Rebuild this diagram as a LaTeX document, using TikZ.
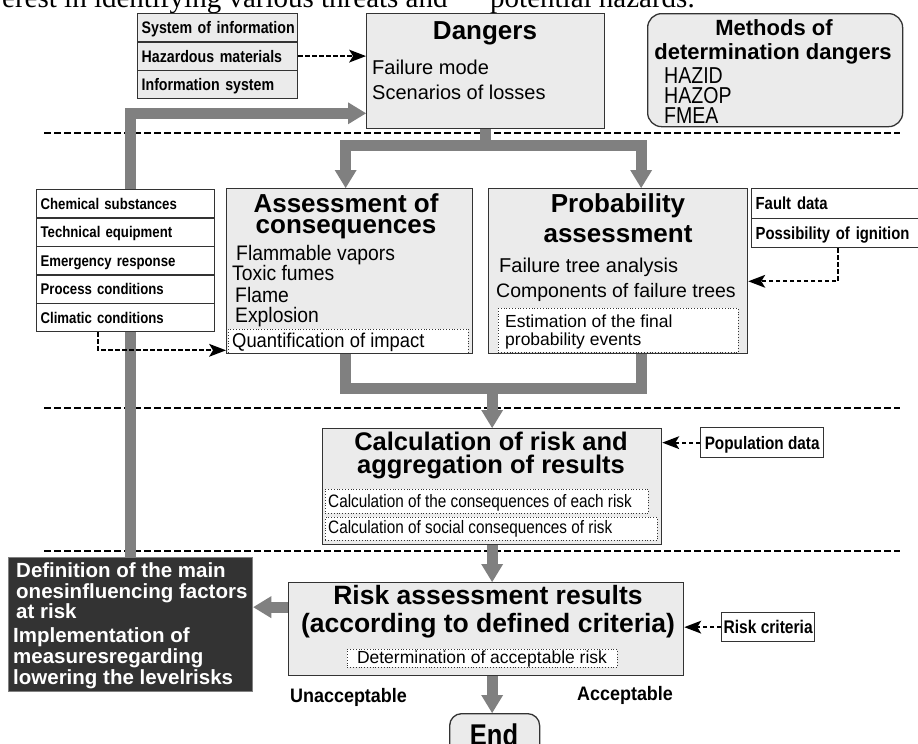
\documentclass[tikz,border=0pt]{standalone}
\usepackage{fontspec}
\setmainfont{Liberation Sans}
\newfontfamily\nar[FakeStretch=0.85]{Liberation Sans}
\newfontfamily\arm[FakeStretch=0.92]{Liberation Sans}
\newfontfamily\tms{Liberation Serif}
\usetikzlibrary{arrows.meta,calc}
\newcommand\sz[1]{\fontsize{#1}{#1}\selectfont}
\definecolor{boxgray}{HTML}{EBEBEB}
\definecolor{arrgray}{HTML}{808080}
\definecolor{edge}{HTML}{333333}
\definecolor{darkfill}{HTML}{333333}
\tikzset{
  bx/.style={draw=edge, line width=1.3pt, fill=boxgray, anchor=north west, inner sep=0pt},
  dotbx/.style={draw=edge, dotted, line width=0.8pt, fill=white, anchor=north west, inner sep=0pt},
  lrow/.style={draw=edge, line width=1.3pt, anchor=north west, inner xsep=4pt, inner ysep=0pt, align=left, text depth=0pt},
  tx/.style={inner sep=0pt, anchor=base west},
  ctx/.style={inner sep=0pt, anchor=base},
  sepline/.style={draw=black, line width=1.6pt, dash pattern=on 7pt off 3pt},
  gline/.style={draw=arrgray, line width=11pt},
  garrow/.style={gline, -{Triangle[length=18pt,width=22pt,line width=0pt]}},
  darrow/.style={draw=black, line width=1.8pt, dash pattern=on 4.5pt off 2.5pt, -{Stealth[length=17pt,width=13pt,inset=4pt,line width=0pt]}},
}
\begin{document}
\begin{tikzpicture}[x=1pt,y=-1pt]
\useasboundingbox (0,0) rectangle (918,744);
\fill[white] (0,0) rectangle (918,744);

% top running text (cut off)
\node[tx, font=\tms\sz{29}] (toptxtA) at (2,7) {erest in identifying various threats and};
\node[tx, font=\tms\sz{29}] (toptxtB) at (490,7) {potential hazards.};

% separators
\coordinate (s1a) at (44,133); \coordinate (s1b) at (900,133);
\coordinate (s2a) at (44,408); \coordinate (s2b) at (900,408);
\coordinate (s3a) at (44,551); \coordinate (s3b) at (900,551);
\draw[sepline] (s1a) -- (s1b);
\draw[sepline] (s2a) -- (s2b);
\draw[sepline] (s3a) -- (s3b);

% coordinates for boxes
\path
  (366,13) coordinate (dangP)
  (226,188) coordinate (assessP)
  (488,188) coordinate (probP)
  (322,428) coordinate (calcP)
  (288,582) coordinate (riskP)
  (449,713) coordinate (endP)
  (8,557) coordinate (blkP);

% invisible geometry for gray lines
\path (dangP) node[bx, draw=none, fill=none, minimum width=238, minimum height=115] (dangG) {};
\path (assessP) node[bx, draw=none, fill=none, minimum width=246, minimum height=165] (assessG) {};
\path (probP) node[bx, draw=none, fill=none, minimum width=259, minimum height=165] (probG) {};
\path (calcP) node[bx, draw=none, fill=none, minimum width=339, minimum height=116] (calcG) {};
\path (riskP) node[bx, draw=none, fill=none, minimum width=395, minimum height=93] (riskG) {};
\path (endP) node[bx, draw=none, fill=none, minimum width=90, minimum height=50] (endG) {};
\path (blkP) node[bx, draw=none, fill=none, minimum width=244, minimum height=134] (blkG) {};

% gray connectors
\draw[garrow] (blkG.north) |- ($(dangG.south west)+(0,-16)$);
\coordinate (dsplit) at ($(dangG.south)+(0,16)$);
\draw[gline] (dangG.south) -- (dsplit);
\draw[garrow] (dsplit) -| ($(assessG.north)+(-4,0)$);
\draw[garrow] (dsplit) -| ($(probG.north)+(23,0)$);
\coordinate (aB) at ($(assessG.south)+(-4,0)$);
\coordinate (pB) at ($(probG.south)+(23,0)$);
\coordinate (merge) at ($(calcG.north)+(0,-40)$);
\draw[gline] (aB) |- (merge) -| (pB);
\draw[garrow] (merge) -- (calcG.north);
\draw[garrow] (calcG.south) -- (calcG.south |- riskG.north);
\draw[garrow] (calcG.south |- riskG.south) -- (calcG.south |- endG.north);
\coordinate (rl) at ($(riskG.west)+(0,-22)$);
\draw[garrow] (rl) -- (rl -| blkG.east);

% visible boxes
\node[bx, minimum width=238, minimum height=115] (dang) at (dangP) {};
\node[bx, rounded corners=14pt, minimum width=255, minimum height=113] (meth) at (647,13) {};
\node[bx, minimum width=246, minimum height=165] (assess) at (assessP) {};
\node[bx, minimum width=259, minimum height=165] (prob) at (probP) {};
\node[bx, minimum width=339, minimum height=116] (calc) at (calcP) {};
\node[bx, minimum width=395, minimum height=93] (risk) at (riskP) {};
\node[bx, rounded corners=12pt, minimum width=90, minimum height=50] (end) at (endP) {};
\node[bx, fill=darkfill, draw=gray, minimum width=244, minimum height=134] (blk) at (blkP) {};

% dotted inner boxes
\node[dotbx, minimum width=240, minimum height=24] (quant) at (228,329) {};
\node[dotbx, minimum width=240, minimum height=44] (est) at (498,308) {};
\node[dotbx, minimum width=323, minimum height=24] (csub1) at (325,489) {};
\node[dotbx, minimum width=332, minimum height=23] (csub2) at (325,517) {};
\node[dotbx, minimum width=270, minimum height=18] (det) at (347,649) {};

% top-left list
\begin{scope}[every node/.append style={lrow, fill=boxgray, text width=152pt, minimum height=28.3pt, text height=12pt, font=\nar\bfseries\sz{16.7}}]
\node (r1) at (137,13) {\mbox{System of information}};
\node (r2) at (137,41.3) {\mbox{Hazardous materials}};
\node (r3) at (137,69.6) {\mbox{Information system}};
\end{scope}

% left list
\begin{scope}[every node/.append style={lrow, fill=white, text width=170pt, minimum height=28.4pt, text height=11.2pt, font=\nar\bfseries\sz{15.5}}]
\node (c1) at (36,189) {\mbox{Chemical substances}};
\node (c2) at (36,217.4) {\mbox{Technical equipment}};
\node (c3) at (36,245.8) {\mbox{Emergency response}};
\node (c4) at (36,274.2) {\mbox{Process conditions}};
\node (c5) at (36,302.6) {\mbox{Climatic conditions}};
\end{scope}

% right list
\begin{scope}[every node/.append style={lrow, fill=white, text width=172pt, text height=12.5pt, font=\nar\bfseries\sz{17.5}}]
\node[minimum height=30pt] (f1) at (751,188) {\mbox{Fault data}};
\node[minimum height=29pt] (f2) at (751,218) {\mbox{Possibility of ignition}};
\end{scope}

% small input boxes
\node[lrow, fill=white, inner xsep=0pt, minimum width=123pt, minimum height=30pt, align=center, text height=13pt, font=\nar\bfseries\sz{18}] (pop) at (700,427) {Population data};
\node[lrow, fill=white, inner xsep=0pt, minimum width=93pt, minimum height=29pt, align=center, text height=13pt, font=\nar\bfseries\sz{18.3}] (crit) at (721,612) {Risk criteria};

% dashed input arrows
\draw[darrow] (r2.east) -- (r2.east -| dang.west);
\coordinate (cl) at ($(c5.south west)+(62,0)$);
\draw[darrow] (cl) |- ($(assess.south west)+(0,-4)$);
\coordinate (fl) at ($(f2.south west)+(87,0)$);
\draw[darrow] (fl) |- ($(prob.south east)+(0,-73)$);
\draw[darrow] (pop.west) -- (pop.west -| calc.east);
\draw[darrow] (crit.west) -- (crit.west -| risk.east);

% Dangers texts
\node[ctx, font=\bfseries\sz{26}] (dangT) at (485,39) {Dangers};
\node[tx, font=\sz{20}] (dang1) at (372,74) {Failure mode};
\node[tx, font=\sz{20}] (dang2) at (372,99) {Scenarios of losses};

% Methods texts
\node[ctx, font=\bfseries\sz{22}] (methT1) at (774,35) {Methods of};
\node[ctx, font=\bfseries\sz{22}] (methT2) at (773,59) {determination dangers};
\node[tx, font=\nar\sz{23}] (m1) at (664,83) {HAZID};
\node[tx, font=\nar\sz{23}] (m2) at (664,103) {HAZOP};
\node[tx, font=\nar\sz{23}] (m3) at (664,123) {FMEA};

% Assessment texts
\node[ctx, font=\bfseries\sz{26}] (aT1) at (346,212) {Assessment of};
\node[ctx, font=\bfseries\sz{26}] (aT2) at (346,233) {consequences};
\node[tx, font=\arm\sz{21}] (a1) at (236,260) {Flammable vapors};
\node[tx, font=\arm\sz{21}] (a2) at (232,280) {Toxic fumes};
\node[tx, font=\arm\sz{21}] (a3) at (235,302) {Flame};
\node[tx, font=\arm\sz{21}] (a4) at (235,322) {Explosion};
\node[tx, font=\arm\sz{20}] (quantT) at (232,347) {Quantification of impact};

% Probability texts
\node[ctx, font=\bfseries\sz{26}] (pT1) at (618,212) {Probability};
\node[ctx, font=\bfseries\sz{26}] (pT2) at (618,242) {assessment};
\node[tx, font=\sz{20}] (p1) at (499,272) {Failure tree analysis};
\node[tx, font=\sz{19.5}] (p2) at (496,297) {Components of failure trees};
\node[tx, font=\sz{17.5}] (estT1) at (505,327) {Estimation of the final};
\node[tx, font=\sz{17.5}] (estT2) at (505,345) {probability events};

% Calculation texts
\node[ctx, font=\bfseries\sz{25.5}] (cT1) at (491,450) {Calculation of risk and};
\node[ctx, font=\bfseries\sz{25.5}] (cT2) at (491,473) {aggregation of results};
\node[tx, font=\nar\sz{18}] (cs1) at (328,507) {Calculation of the consequences of each risk};
\node[tx, font=\nar\sz{18}] (cs2) at (328,533) {Calculation of social consequences of risk};

% Risk texts
\node[ctx, font=\bfseries\sz{26.5}] (rT1) at (488,604) {Risk assessment results};
\node[ctx, font=\bfseries\sz{26.5}] (rT2) at (488,632) {(according to defined criteria)};
\node[ctx, font=\sz{17.5}] (detT) at (482,663) {Determination of acceptable risk};

% End and outcome labels
\node[ctx, font=\nar\bfseries\sz{30}] (endT) at (494,745) {End};
\node[tx, font=\arm\bfseries\sz{19.5}] (unacc) at (290,702) {Unacceptable};
\node[tx, font=\arm\bfseries\sz{19.5}] (acc) at (577,700) {Acceptable};

% Black box texts
\begin{scope}[every node/.append style={tx, text=white, font=\bfseries\sz{20.5}}]
\node (b1) at (16,577) {Definition of the main};
\node (b2) at (16,598) {onesinfluencing factors};
\node (b3) at (16,618) {at risk};
\node (b4) at (13,642) {Implementation of};
\node (b5) at (13,663) {measuresregarding};
\node (b6) at (13,684) {lowering the levelrisks};
\end{scope}
\end{tikzpicture}
\end{document}
